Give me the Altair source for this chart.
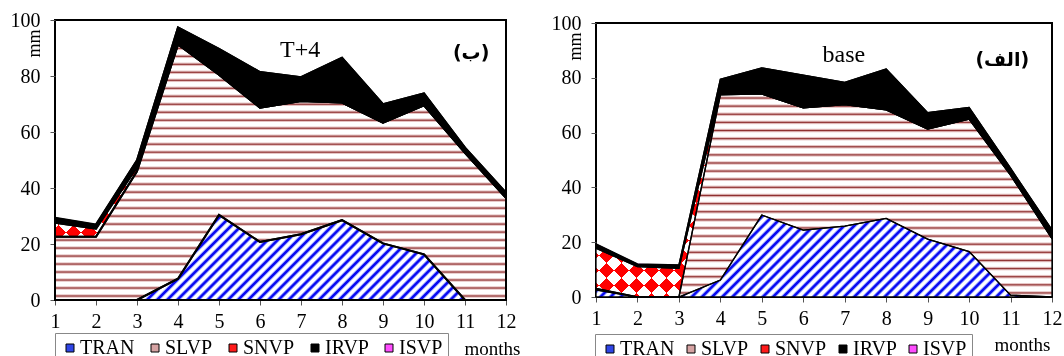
import math
import altair as alt
import pandas as pd

MONTHS = list(range(1, 13))
SERIES = ["TRAN", "SLVP", "SNVP", "IRVP", "ISVP"]
LEGEND_COLORS = ["#2f45e6", "#d6a3a3", "#ff1a1a", "#000000", "#ff4dff"]
Y_TICKS = [0, 20, 40, 60, 80, 100]

# panel (ب)  T+4
T4_TRAN = [0, 0, 0, 7.6, 30.4, 20.7, 23.5, 28.5, 20.2, 16.3, 0, 0]
T4_SLVP = [22.6, 22.6, 46.0, 83.7, 50.1, 48.0, 47.6, 42.0, 43.1, 53.2, 52.6, 36.5]
T4_SNVP = [5.0, 2.9, 1.5, 0, 0, 0, 0, 0, 0, 0, 0, 0]
T4_IRVP = [1.6, 1.3, 2.4, 6.0, 9.2, 12.7, 8.5, 16.0, 6.6, 4.3, 1.8, 1.8]
T4_ISVP = [0.2, 0.2, 0, 0, 0, 0, 0, 0, 0, 0, 0, 0]

# panel (الف)  base
BASE_TRAN = [2.6, 0, 0, 6.2, 29.9, 24.4, 25.9, 28.7, 21.1, 16.6, 0.7, 0]
BASE_SLVP = [0.5, 0, 0, 67.6, 44.2, 44.6, 44.3, 39.6, 40.2, 48.3, 43.8, 21.3]
BASE_SNVP = [14.7, 11.1, 10.5, 0.4, 0, 0, 0, 0, 0, 0, 0, 0]
BASE_IRVP = [1.4, 0.8, 1.1, 5.3, 9.5, 12.0, 8.1, 14.9, 6.0, 4.3, 2.5, 3.2]
BASE_ISVP = [0.2, 0.2, 0.1, 0, 0, 0, 0, 0, 0, 0, 0, 0]

# annotations (x in months, y in mm)
T4_LABEL = ["T+4"]
T4_LABEL_POS = [6.98, 89.3]
T4_AR = ["(ب)"]
T4_AR_POS = [11.15, 88.2]
BASE_LABEL = ["base"]
BASE_LABEL_POS = [6.98, 88.4]
BASE_AR = ["(الف)"]
BASE_AR_POS = [10.8, 86.6]

FONT = "Liberation Serif"

TRAN_P = [(0, "#ffffff"), (0.16, "#ffffff"), (0.3, "#7f8cff"), (0.4, "#0a0af0"),
          (0.6, "#0a0af0"), (0.7, "#7f8cff"), (0.84, "#ffffff"), (1, "#ffffff")]
SLVP_P = [(0, "#ffffff"), (0.22, "#ffffff"), (0.36, "#e2bcbc"), (0.5, "#8e2f2f"),
          (0.64, "#e2bcbc"), (0.78, "#ffffff"), (1, "#ffffff")]
BW_P = [(0, "#ffffff"), (0.5, "#ffffff"), (0.5, "#000000"), (1, "#000000")]


def long_df(vals):
    rows = []
    for i, (name, vs) in enumerate(zip(SERIES, vals)):
        for m, v in zip(MONTHS, vs):
            rows.append({"month": m, "series": name, "value": v, "order": i})
    return pd.DataFrame(rows)


def grad(profile, theta_deg, W, H, period, flip=False):
    th = math.radians(theta_deg)
    s, c = math.sin(th), math.cos(th)
    ext = W * s + H * c
    k = ext / ((W * s) ** 2 + (H * c) ** 2)
    a, b = k * W * s, k * H * c
    if flip:
        x1, y1, x2, y2 = 0, 1, a, 1 - b
    else:
        x1, y1, x2, y2 = 0, 0, a, b
    n = max(1, round(ext / period))
    stops = []
    for i in range(n):
        for off, col in profile:
            stops.append({"offset": round((i + off) / n, 6), "color": col})
    return {"gradient": "linear", "x1": round(x1, 6), "y1": round(y1, 6),
            "x2": round(x2, 6), "y2": round(y2, 6), "stops": stops}


def panel(vals, W, H, lw, lab, lab_pos, ar, ar_pos, months_xy, leg):
    tran, slvp, snvp, irvp, isvp = vals
    px = H / 100.0
    c1 = tran
    c2 = [a + b for a, b in zip(c1, slvp)]
    c3 = [a + b for a, b in zip(c2, snvp)]
    df = long_df(vals)

    xs = alt.Scale(domain=[1, 12], nice=False, zero=False)
    ys = alt.Scale(domain=[0, 100], nice=False)
    xaxis = alt.Axis(values=MONTHS, tickSize=5, tickColor="#555", domain=False, grid=False,
                     labelFont=FONT, labelFontSize=20, labelColor="black", labelPadding=6,
                     labelFlush=False, labelOverlap=False, format="d",
                     title="months", titleFont=FONT, titleFontSize=19, titleFontWeight="normal",
                     titleColor="black", titleX=months_xy[0], titleY=months_xy[1],
                     titleAlign="center", titleBaseline="middle")
    yaxis = alt.Axis(values=Y_TICKS, tickSize=5, tickColor="#555", domain=False, grid=False,
                     labelFont=FONT, labelFontSize=20, labelColor="black", labelPadding=10,
                     title="mm", titleFont=FONT, titleFontSize=18, titleFontWeight="normal",
                     titleColor="black", titleX=-21, titleY=23, titleAngle=270,
                     titleAlign="center", titleBaseline="middle")

    stacked = alt.Chart(df).transform_stack(
        stack="value", groupby=["month"], as_=["y0", "y1"],
        sort=[alt.SortField("order", order="ascending")])

    def area(name, **mk):
        return stacked.transform_filter(alt.datum.series == name).mark_area(**mk).encode(
            x=alt.X("month:Q", scale=xs, axis=xaxis),
            y=alt.Y("y1:Q", scale=ys, axis=yaxis),
            y2=alt.Y2("y0:Q"))

    g_tran = grad(TRAN_P, 45, W, max(c1) * px, 7.2)
    g_slvp = grad(SLVP_P, 0, W, (max(c2) - min(c1)) * px, 8)
    hs = (max(c3) - min(c2)) * px
    g_a = grad(BW_P, 45, W, hs, 21.2)
    g_b = grad(BW_P, 45, W, hs, 21.2, flip=True)

    layers = [
        area("TRAN", fill=g_tran),
        area("SLVP", fill=g_slvp),
        area("SNVP", fill=g_a),
        area("SNVP", fill=g_b, blend="difference"),
        area("SNVP", fill="#ff0000", blend="lighten"),
        area("IRVP", fill="#000000"),
        area("ISVP", fill="#ff00ff"),
    ]
    for s in SERIES:
        layers.append(area(s, fillOpacity=0, stroke="black", strokeWidth=lw))

    tdf = pd.DataFrame({"label": lab, "x": [lab_pos[0]], "y": [lab_pos[1]]})
    adf = pd.DataFrame({"label": ar, "x": [ar_pos[0]], "y": [ar_pos[1]]})
    layers.append(alt.Chart(tdf).mark_text(font=FONT, fontSize=24, color="black").encode(
        x=alt.X("x:Q", scale=xs, axis=xaxis), y=alt.Y("y:Q", scale=ys, axis=yaxis),
        text="label:N"))
    layers.append(alt.Chart(adf).mark_text(font="DejaVu Sans", fontSize=19, fontWeight="bold",
                                           color="black").encode(
        x=alt.X("x:Q", scale=xs, axis=xaxis), y=alt.Y("y:Q", scale=ys, axis=yaxis),
        text="label:N"))

    ldf = pd.DataFrame({"series": SERIES})
    layers.append(alt.Chart(ldf).mark_square(opacity=0, filled=True).encode(
        color=alt.Color("series:N", sort=SERIES,
                        scale=alt.Scale(domain=SERIES, range=LEGEND_COLORS),
                        legend=alt.Legend(orient="none", legendX=leg["x"], legendY=leg["y"],
                                          direction="horizontal", title=None,
                                          labelFont=FONT, labelFontSize=20, labelColor="black",
                                          symbolType="square", symbolSize=64,
                                          symbolStrokeColor="black", symbolStrokeWidth=1,
                                          strokeColor="#888", fillColor="white",
                                          padding=leg["pad"],
                                          columnPadding=leg["cp"], labelOffset=leg["lo"]))))

    return alt.layer(*layers).properties(width=W, height=H)


left = panel([T4_TRAN, T4_SLVP, T4_SNVP, T4_IRVP, T4_ISVP], 451, 280, 2.0,
             T4_LABEL, T4_LABEL_POS, T4_AR, T4_AR_POS, (437, 48),
             {"x": 0, "y": 313, "pad": 5, "cp": 10, "lo": 0})
right = panel([BASE_TRAN, BASE_SLVP, BASE_SNVP, BASE_IRVP, BASE_ISVP], 456, 274, 1.3,
              BASE_LABEL, BASE_LABEL_POS, BASE_AR, BASE_AR_POS, (426, 47),
              {"x": -1, "y": 311, "pad": 5, "cp": 6, "lo": 0})

chart = alt.hconcat(left, right, spacing=90, bounds="flush", center=True).resolve_scale(
    color="independent").resolve_legend(color="independent").properties(
    padding={"left": 9, "top": 9, "right": 0, "bottom": 0}).configure_view(
    stroke="black", strokeWidth=2)

chart.save("out.html", embed_options={"renderer": "svg", "actions": False})
